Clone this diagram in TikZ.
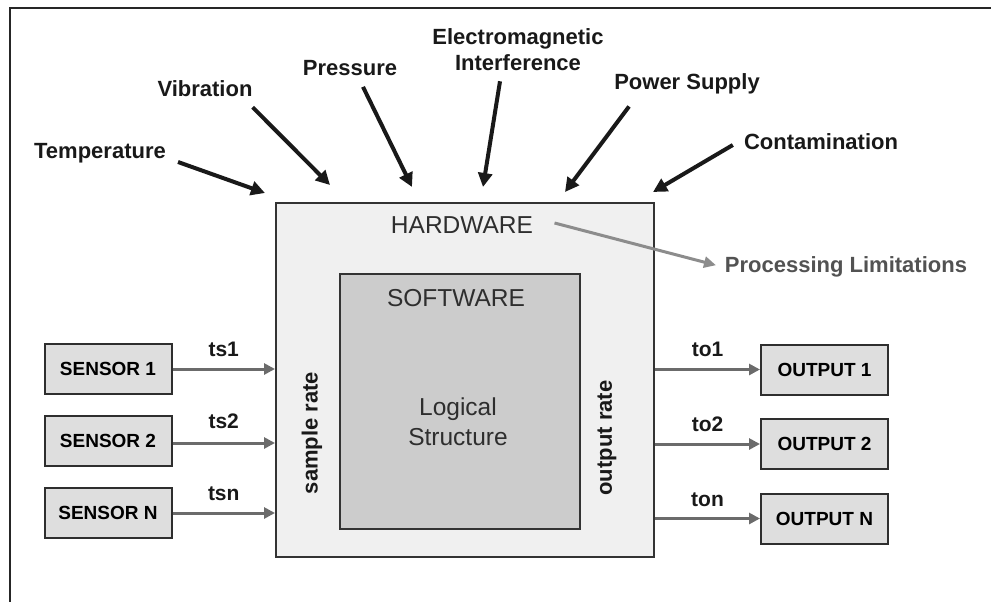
\documentclass[tikz,border=0pt]{standalone}
\usepackage{fontspec}
\setmainfont{Liberation Sans}
\usetikzlibrary{arrows.meta,positioning}

\begin{document}
\begin{tikzpicture}[x=1pt,y=-1pt,
  font=\fontsize{22}{26}\selectfont\bfseries,
  env/.style={inner sep=2pt,text=black!90},
  envarrow/.style={-{Triangle[length=14pt,width=14pt]},line width=4pt,draw=black!90},
  sigarrow/.style={-{Triangle[length=11pt,width=11pt]},line width=3pt,draw=black!58},
  rateval/.style={inner sep=2pt,font=\fontsize{21}{24}\selectfont\bfseries,text=black!90},
  iobox/.style={draw=black!82,fill=black!13,line width=2pt,minimum width=127pt,minimum height=50pt,inner sep=0pt,font=\fontsize{19}{22}\selectfont\bfseries},
  layer/.style={draw=black!80,line width=2pt},
  boxtext/.style={font=\fontsize{24.5}{30}\selectfont,text=black!82},
  rate/.style={rotate=90,inner sep=2pt,text=black!90}]
\useasboundingbox (0,0) rectangle (991,602);
\draw[line width=2.5pt,black!85] (10,602) -- (10,8) -- (991,8);

% hardware and software layers
\node[layer,fill=black!6,minimum width=378pt,minimum height=354pt] (hw) at (465,380) {};
\node[layer,fill=black!20,minimum width=240pt,minimum height=255pt] (sw) at (460,401.5) {};
\node[boxtext] (hwlabel) at (462,225) {HARDWARE};
\node[boxtext] (swlabel) at (456,298) {SOFTWARE};
\node[boxtext,align=center] (logic) at (458,422) {Logical\\Structure};
\node[rate] (srate) at (312,433) {sample rate};
\node[rate] (orate) at (607,438) {output rate};

% environment
\node[env] (temp) at (100,153) {Temperature};
\node[env] (vib) at (205,89) {Vibration};
\node[env] (press) at (350,68) {Pressure};
\node[env,align=center] (emi) at (518,50) {Electromagnetic\\Interference};
\node[env] (power) at (687,84) {Power Supply};
\node[env] (contam) at (821,142) {Contamination};
\node[env,text=black!68] (proc) at (846,267) {Processing Limitations};

\coordinate (temp-in) at (265,193);
\coordinate (vib-in) at (330,185);
\coordinate (press-in) at (412,187);
\coordinate (emi-in) at (483,187);
\coordinate (power-in) at (565,192);
\coordinate (contam-in) at (653,192);

\draw[envarrow] ([shift={(10,9)}]temp.east) -- (temp-in);
\draw[envarrow] ([shift={(-2,8)}]vib.south east) -- (vib-in);
\draw[envarrow] ([shift={(13,9)}]press.south) -- (press-in);
\draw[envarrow] ([shift={(-18,8)}]emi.south) -- (emi-in);
\draw[envarrow] ([shift={(17,10)}]power.south west) -- (power-in);
\draw[envarrow] ([shift={(-9,3)}]contam.west) -- (contam-in);
\draw[-{Triangle[length=12pt,width=11pt]},line width=3pt,draw=black!45,shorten >=7pt]
  ([shift={(18,-2)}]hwlabel.east) -- (proc.west);

% sensors and outputs
\node[iobox] (s1) at (108,369) {SENSOR 1};
\node[iobox] (s2) at (108,441) {SENSOR 2};
\node[iobox] (sn) at (108,513) {SENSOR N};
\node[iobox] (o1) at (824.5,369.5) {OUTPUT 1};
\node[iobox] (o2) at (824.5,444) {OUTPUT 2};
\node[iobox] (on) at (824.5,518.5) {OUTPUT N};

\draw[sigarrow] (s1) -- (s1 -| hw.west) node[rateval,midway,above=9pt] {ts1};
\draw[sigarrow] ([yshift=-2pt]s2.east) -- ([yshift=-2pt]s2 -| hw.west) node[rateval,midway,above=11pt] {ts2};
\draw[sigarrow] (sn) -- (sn -| hw.west) node[rateval,midway,above=9pt] {tsn};
\draw[sigarrow] (o1 -| hw.east) -- (o1) node[rateval,midway,above=9pt] {to1};
\draw[sigarrow] (o2 -| hw.east) -- (o2) node[rateval,midway,above=9pt] {to2};
\draw[sigarrow] (on -| hw.east) -- (on) node[rateval,midway,above=8pt] {ton};
\end{tikzpicture}
\end{document}
